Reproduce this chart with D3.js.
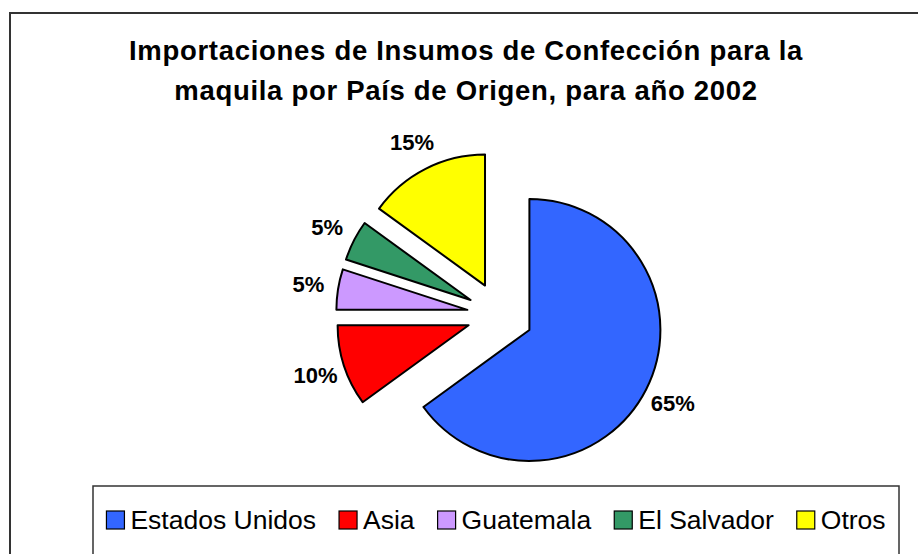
<!DOCTYPE html>
<html>
<head>
<meta charset="utf-8">
<script src="https://cdn.jsdelivr.net/npm/d3@7"></script>
<style>
  body { margin: 0; background: #fff; }
  svg { display: block; font-family: "Liberation Sans", Arial, sans-serif; }
</style>
</head>
<body>
<div id="chart"></div>
<script>
const categories = ["Estados Unidos", "Asia", "Guatemala", "El Salvador", "Otros"];
const values = [65, 10, 5, 5, 15];
const labels = ["65%", "10%", "5%", "5%", "15%"];
const colors = ["#3366ff", "#ff0000", "#cc99ff", "#339966", "#ffff00"];
const titleLines = [
  "Importaciones de Insumos de Confección para la",
  "maquila por País de Origen, para año 2002"
];

const W = 918, H = 554;
const cx = 500, cy = 315,
      radius = 131,
      explode = 33,
      labelRadius = 194;

const svg = d3.select("#chart")
  .append("svg")
  .attr("width", W)
  .attr("height", H);

// outer chart frame (runs off the right and bottom)
svg.append("rect")
  .attr("x", 10)
  .attr("y", 13)
  .attr("width", W + 20)
  .attr("height", H + 20)
  .attr("fill", "#fff")
  .attr("stroke", "#333")
  .attr("stroke-width", 2);

svg.append("g")
  .selectAll("text")
  .data(titleLines)
  .join("text")
  .attr("x", 466)
  .attr("y", (d, i) => 60 + i * 40)
  .attr("text-anchor", "middle")
  .attr("font-size", 27.5)
  .attr("letter-spacing", 0.7)
  .attr("font-weight", "bold")
  .attr("fill", "#000")
  .text(d => d);

const pie = d3.pie().sort(null).value(d => d)
  .startAngle(0).endAngle(2 * Math.PI);
const arcs = pie(values);

const arc = d3.arc().innerRadius(0).outerRadius(radius);

function dir(a) {
  const mid = (a.startAngle + a.endAngle) / 2;
  return [Math.sin(mid), -Math.cos(mid)];
}

const pieG = svg.append("g")
  .attr("transform", "translate(" + cx + " " + cy + ")");

pieG.selectAll("path")
  .data(arcs)
  .join("path")
  .attr("d", arc)
  .attr("transform", d => {
    const v = dir(d);
    return "translate(" + (v[0] * explode) + " " + (v[1] * explode) + ")";
  })
  .attr("fill", (d, i) => colors[i])
  .attr("stroke", "#000")
  .attr("stroke-width", 2)
  .attr("stroke-linejoin", "round");

pieG.selectAll("text")
  .data(arcs)
  .join("text")
  .attr("x", d => dir(d)[0] * labelRadius)
  .attr("y", d => dir(d)[1] * labelRadius)
  .attr("dy", "0.35em")
  .attr("text-anchor", "middle")
  .attr("font-size", 22)
  .attr("font-weight", "bold")
  .attr("fill", "#000")
  .text((d, i) => labels[i]);

// legend
const legendX = 93, legendY = 486, legendW = 806;
svg.append("rect")
  .attr("x", legendX)
  .attr("y", legendY)
  .attr("width", legendW)
  .attr("height", H)
  .attr("fill", "#fff")
  .attr("stroke", "#333")
  .attr("stroke-width", 1.5);

const SW = 18, GAP_T = 6, GAP_I = 23, ly = 520;
const legend = svg.append("g");
const items = legend.selectAll("g")
  .data(categories)
  .join("g");

items.append("rect")
  .attr("width", SW)
  .attr("height", SW)
  .attr("y", ly - SW / 2)
  .attr("fill", (d, i) => colors[i])
  .attr("stroke", "#000")
  .attr("stroke-width", 1.2);

items.append("text")
  .attr("x", SW + GAP_T)
  .attr("y", ly)
  .attr("dy", "0.35em")
  .attr("font-size", 26.5)
  .attr("fill", "#000")
  .text(d => d);

let widths = [];
items.each(function () {
  widths.push(SW + GAP_T + d3.select(this).select("text").node().getComputedTextLength());
});
const total = d3.sum(widths) + GAP_I * (widths.length - 1);
let x0 = legendX + (legendW - total) / 2;
items.attr("transform", (d, i) => {
  const t = "translate(" + x0 + " 0)";
  x0 += widths[i] + GAP_I;
  return t;
});
</script>
</body>
</html>
